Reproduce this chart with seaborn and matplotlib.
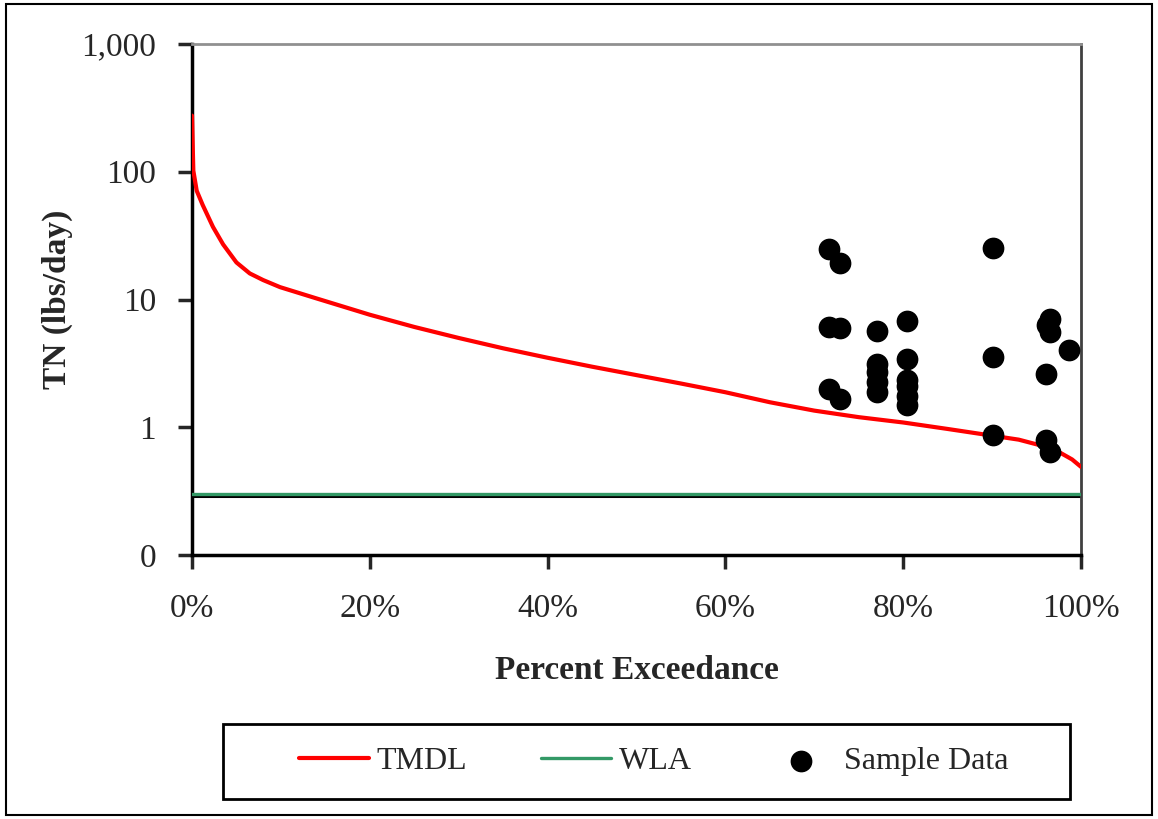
import numpy as np
import pandas as pd
import matplotlib
matplotlib.use("Agg")
import matplotlib.pyplot as plt
import matplotlib.transforms as mtransforms
from matplotlib.patches import Rectangle
import seaborn as sns

# TMDL load duration curve (percent exceedance, lbs/day)
tmdl_pct = [0, 0.15, 0.53, 1.2, 2.36, 3.5, 5.0, 6.5, 8, 9.9, 14, 20, 25, 30, 35, 40,
            45, 50, 55, 60, 65, 70, 75, 80, 85, 90, 93, 95.5, 97.7, 99, 100]
tmdl_val = [275, 102, 71, 55, 37, 27, 19.5, 16, 14.2, 12.5, 10.2, 7.6, 6.1, 5.0, 4.15, 3.5,
            2.98, 2.56, 2.2, 1.88, 1.57, 1.35, 1.2, 1.09, 0.97, 0.86, 0.8, 0.72, 0.63, 0.56, 0.49]

wla_value = 0.3

# sample data
sample_pct = [71.7, 72.9, 71.7, 72.9, 71.7, 72.9,
              77.0, 77.0, 77.0, 77.0, 77.0,
              80.4, 80.4, 80.4, 80.4, 80.4, 80.4,
              90.1, 90.1, 90.1,
              96.5, 96.2, 96.5, 96.1, 96.1, 96.5, 98.6]
sample_val = [24.9, 19.2, 6.08, 6.0, 2.0, 1.65,
              5.66, 3.14, 2.7, 2.26, 1.89,
              6.85, 3.44, 2.33, 2.1, 1.75, 1.5,
              25.3, 3.54, 0.866,
              7.07, 6.26, 5.55, 2.59, 0.79, 0.64, 4.05]

y_ticks = [0.1, 1, 10, 100, 1000]
y_ticklabels = ["0", "1", "10", "100", "1,000"]
x_ticks = [0, 20, 40, 60, 80, 100]
x_ticklabels = ["0%", "20%", "40%", "60%", "80%", "100%"]

tmdl = pd.DataFrame({"pct": tmdl_pct, "load": tmdl_val})
samples = pd.DataFrame({"pct": sample_pct, "load": sample_val})

sns.set_style("white")
plt.rcParams["font.family"] = ["Liberation Serif", "DejaVu Serif"]

fig = plt.figure(figsize=(11.58, 8.19), dpi=100)
ax = fig.add_axes([0.1658, 0.3223, 0.7677, 0.624])

sns.lineplot(data=tmdl, x="pct", y="load", color="#ff0000", linewidth=3,
             label="TMDL", ax=ax, zorder=3, legend=False)

# black line under the WLA line
below = mtransforms.offset_copy(ax.transData, fig=fig, y=-2, units="dots")
ax.plot([0, 100], [wla_value, wla_value], color="black", linewidth=2.2,
        transform=below, zorder=2)
ax.plot([0, 100], [wla_value, wla_value], color="#339966", linewidth=2.4,
        label="WLA", zorder=3)

sns.scatterplot(data=samples, x="pct", y="load", color="black", s=210,
                edgecolor="black", label="Sample Data", ax=ax, zorder=4, legend=False)

ax.set_yscale("log")
ax.set_ylim(0.1, 1000)
ax.set_xlim(0, 100)
ax.set_yticks(y_ticks)
ax.set_yticklabels(y_ticklabels)
ax.yaxis.set_minor_locator(matplotlib.ticker.NullLocator())
ax.set_xticks(x_ticks)
ax.set_xticklabels(x_ticklabels)

ax.tick_params(axis="y", direction="out", length=10, width=2.5, labelsize=24, pad=16, left=True)
ax.tick_params(axis="x", direction="out", length=10, width=2.5, labelsize=24, pad=18, bottom=True)

for side in ["left", "bottom"]:
    ax.spines[side].set_color("black")
    ax.spines[side].set_linewidth(2.5)
ax.spines["top"].set_color("#909090")
ax.spines["top"].set_linewidth(2)
ax.spines["right"].set_color("#404040")
ax.spines["right"].set_linewidth(2)

ax.set_xlabel("Percent Exceedance", fontsize=24, fontweight="bold", labelpad=22)
ax.set_ylabel("TN (lbs/day)", fontsize=24, fontweight="bold", labelpad=6)

# legend box
fig.patches.append(Rectangle((0.1926, 0.0244), 0.7314, 0.0916, transform=fig.transFigure,
                             fill=False, edgecolor="black", linewidth=2, zorder=5))
handles, labels = ax.get_legend_handles_labels()
fig.legend(handles, labels, loc="center left", ncol=3,
           bbox_to_anchor=(0.2578, 0.0705), fontsize=23,
           frameon=False, handlelength=2.2, handletextpad=0.25,
           borderpad=0, borderaxespad=0, columnspacing=2.3)

# outer chart border
fig.patches.append(Rectangle((0.005, 0.005), 0.99, 0.99, transform=fig.transFigure,
                             fill=False, edgecolor="black", linewidth=1.5))

fig.savefig("out.png", dpi=100)
